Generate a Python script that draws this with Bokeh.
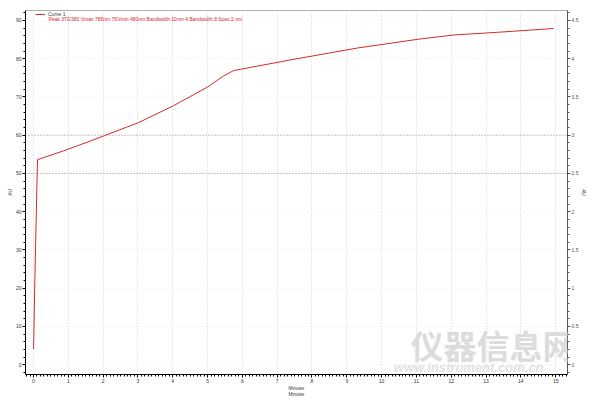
from bokeh.plotting import figure
from bokeh.models import (Range1d, LinearAxis, SingleIntervalTicker, Span, Label,
                          Legend, LegendItem, ColumnDataSource)
from bokeh.embed import file_html
from bokeh.resources import INLINE

# ---- data ----
minutes = [0.00, 0.01, 0.03, 0.06, 0.09, 0.115, 0.86, 1.64, 3.02, 4.02,
           5.00, 5.46, 5.75, 7.39, 9.31, 11.06, 12.07, 13.33, 14.94]
signal = [4.1, 7.2, 18.2, 31.0, 43.8, 53.6, 55.9, 58.5, 63.3, 67.7,
          72.6, 75.5, 76.9, 79.7, 82.8, 85.1, 86.2, 86.9, 87.9]
ref_levels = [50, 60]
legend_title = "Curve 1"
legend_detail = "Peak 370/380 Vmax 785nm 75Vmin 480nm Bandwidth 10nm 4 Bandwidth 8 Spec 2 nm"
x_label = "Minutes\nMinutes"
y_label = "AU"
y2_label = "AU"
right_scale = 20.0
watermark_cn = "仪器信息网"
watermark_url = "www.instrument.com.cn"

FONT = "Liberation Sans"
FW, FH = 542, 364

p = figure(frame_width=FW, frame_height=FH, output_backend="svg", toolbar_location=None,
           x_range=Range1d(-0.23, 15.34), y_range=Range1d(-2.56, 92.6),
           min_border_left=25, min_border_right=0, min_border_top=10, min_border_bottom=0)
p.extra_y_ranges = {"right": Range1d(-2.56 / right_scale, 92.6 / right_scale)}

p.outline_line_color = "#b0b0b0"
p.background_fill_color = "white"


def style_axis(ax, color):
    ax.axis_line_color = color
    ax.major_tick_line_color = color
    ax.minor_tick_line_color = color
    ax.major_tick_out = 3
    ax.major_tick_in = 0
    ax.minor_tick_out = 2
    ax.minor_tick_in = 0
    ax.major_label_text_font_size = "5px"
    ax.major_label_text_font = FONT
    ax.major_label_text_color = "#333333"
    ax.major_label_standoff = 1
    ax.axis_label_text_font_size = "4.5px"
    ax.axis_label_text_font = FONT
    ax.axis_label_text_font_style = "normal"
    ax.axis_label_text_color = "#333333"
    ax.axis_label_standoff = 0


style_axis(p.xaxis[0], "black")
style_axis(p.yaxis[0], "black")
p.xaxis[0].ticker = SingleIntervalTicker(interval=1, num_minor_ticks=10)
p.yaxis[0].ticker = SingleIntervalTicker(interval=10, num_minor_ticks=5)
p.xaxis[0].axis_label = x_label
p.yaxis[0].axis_label = y_label

rax = LinearAxis(y_range_name="right", ticker=SingleIntervalTicker(interval=0.5, num_minor_ticks=5))
style_axis(rax, "#555555")
rax.major_label_text_color = "#555555"
rax.axis_label = y2_label
p.add_layout(rax, "right")

# grid
p.xgrid.grid_line_color = "#d0d0d0"
p.xgrid.grid_line_dash = "1 2"
p.ygrid.grid_line_color = "#ececec"
p.ygrid.grid_line_dash = "1 2"

for lv in ref_levels:
    p.add_layout(Span(location=lv, dimension="width", line_color="#909090",
                      line_dash="1 2", line_width=1))

# watermark
p.add_layout(Label(x=10.83, y=-1.0, text=watermark_cn, text_font="Noto Sans CJK SC",
                   text_font_size="33px", text_font_style="bold", text_color="#dcdcdc"))
p.add_layout(Label(x=10.35, y=-2.6, text=watermark_url, text_font=FONT,
                   text_font_size="13px", text_font_style="bold italic", text_color="#e2e2e2"))

src = ColumnDataSource(dict(x=minutes, y=signal))
r = p.line("x", "y", source=src, line_color="#d42a2a", line_width=1)

legend = Legend(items=[LegendItem(label=legend_title, renderers=[r])], location=(10, FH - 7),
                background_fill_alpha=0, border_line_alpha=0, label_text_font_size="5px",
                label_text_font=FONT, label_text_color="#444444", glyph_width=10, glyph_height=4,
                label_height=4, label_standoff=3, padding=0, spacing=0, margin=0)
p.add_layout(legend)
p.add_layout(Label(x=0.43, y=90.4, text=legend_detail, text_font=FONT, text_font_size="5px",
                   text_color="#d42a2a", text_baseline="middle"))

open("out.html", "w").write(file_html(p, INLINE))
